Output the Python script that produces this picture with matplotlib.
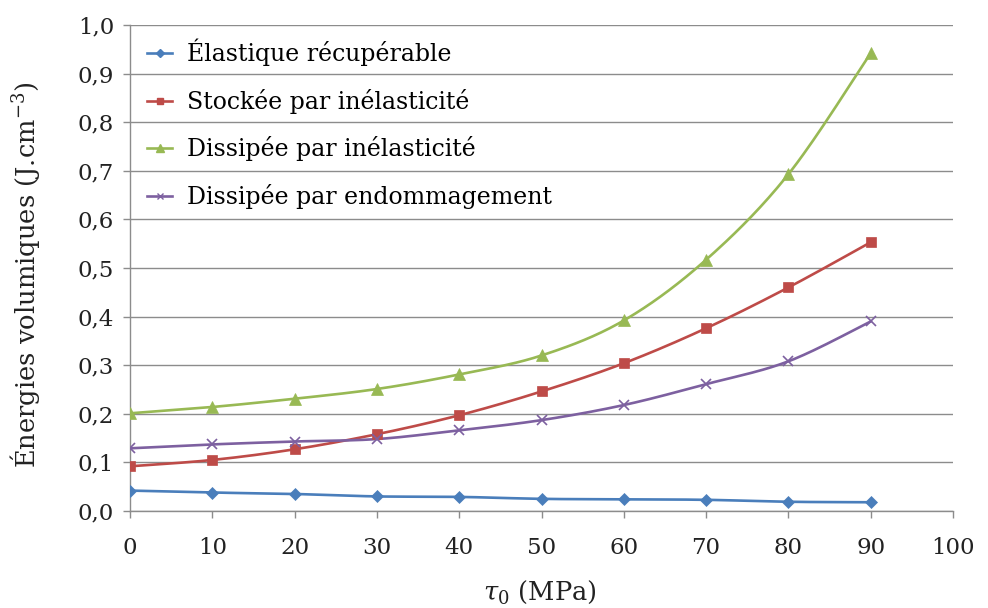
import numpy as np
import matplotlib
matplotlib.use("Agg")
import matplotlib.pyplot as plt
from matplotlib.ticker import FuncFormatter, MultipleLocator

plt.rcParams['font.family'] = ['DejaVu Serif']
plt.rcParams['mathtext.fontset'] = 'dejavuserif'

tau = [0, 10, 20, 30, 40, 50, 60, 70, 80, 90]
elastique = [0.042, 0.038, 0.035, 0.030, 0.029, 0.025, 0.024, 0.023, 0.019, 0.018]
stockee = [0.092, 0.105, 0.127, 0.158, 0.197, 0.246, 0.304, 0.376, 0.460, 0.553]
dissipee_inel = [0.201, 0.214, 0.231, 0.251, 0.281, 0.320, 0.392, 0.517, 0.693, 0.942]
dissipee_endo = [0.129, 0.137, 0.143, 0.148, 0.166, 0.187, 0.218, 0.261, 0.308, 0.390]

labels = ["Élastique récupérable", "Stockée par inélasticité",
          "Dissipée par inélasticité", "Dissipée par endommagement"]
colors = ["#4A7EBB", "#BE4B48", "#98B954", "#7D60A0"]
markers = ["D", "s", "^", "x"]
msizes = [6.5, 7, 8, 7]


def smooth(x, y, n=30):
    x = np.asarray(x, float)
    y = np.asarray(y, float)
    P = np.column_stack([x, y])
    out = []
    m = len(P)
    for i in range(m - 1):
        p0 = P[i - 1] if i > 0 else P[i]
        p1 = P[i]
        p2 = P[i + 1]
        p3 = P[i + 2] if i + 2 < m else P[i + 1]
        c1 = p1 + (p2 - p0) / 6.0
        c2 = p2 - (p3 - p1) / 6.0
        t = np.linspace(0, 1, n)[:, None]
        seg = ((1 - t) ** 3) * p1 + 3 * ((1 - t) ** 2) * t * c1 + 3 * (1 - t) * t ** 2 * c2 + t ** 3 * p2
        out.append(seg if i == 0 else seg[1:])
    arr = np.vstack(out)
    return arr[:, 0], arr[:, 1]


fig = plt.figure(figsize=(9.88, 6.08), dpi=100)
ax = fig.add_axes([130 / 988, 97 / 608, 823 / 988, 486 / 608])

series = [elastique, stockee, dissipee_inel, dissipee_endo]
for ys, lab, c, mk, ms in zip(series, labels, colors, markers, msizes):
    sx, sy = smooth(tau, ys)
    ax.plot(sx, sy, color=c, lw=1.9, zorder=3)
    ax.plot(tau, ys, linestyle='none', marker=mk, color=c, ms=ms, mew=1.2 if mk == 'x' else 0.5, zorder=4)
    ax.plot([], [], color=c, lw=1.9, marker=mk, ms=ms * 0.65, label=lab)

ax.set_xlim(0, 100)
ax.set_ylim(0, 1.0)
ax.xaxis.set_major_locator(MultipleLocator(10))
ax.yaxis.set_major_locator(MultipleLocator(0.1))
ax.yaxis.set_major_formatter(FuncFormatter(lambda v, p: f"{v:.1f}".replace('.', ',')))
ax.grid(axis='y', color='#8c8c8c', lw=1.0, zorder=0)
for s in ['top', 'right']:
    ax.spines[s].set_visible(False)
for s in ['left', 'bottom']:
    ax.spines[s].set_color('#8c8c8c')
    ax.spines[s].set_linewidth(1.0)
ax.tick_params(axis='both', colors='#8c8c8c', labelcolor='#222222', labelsize=16.5, length=5, width=1.0)
ax.tick_params(axis='x', pad=14)
ax.tick_params(axis='y', pad=6.5)

ax.set_xlabel(r'$\tau_0$ (MPa)', fontsize=18.5, color='#222222')
ax.set_ylabel(r'Énergies volumiques (J.cm$^{\mathregular{-3}}$)', fontsize=18.5, color='#222222')
ax.xaxis.set_label_coords(0.498, -0.14)
ax.yaxis.set_label_coords(-0.107, 0.486)

leg = ax.legend(loc='upper left', bbox_to_anchor=(0.0, 1.007), frameon=False, fontsize=17,
                handlelength=1.06, labelspacing=0.96, handletextpad=0.64, borderaxespad=0.32)

fig.savefig("out.png", dpi=100)
